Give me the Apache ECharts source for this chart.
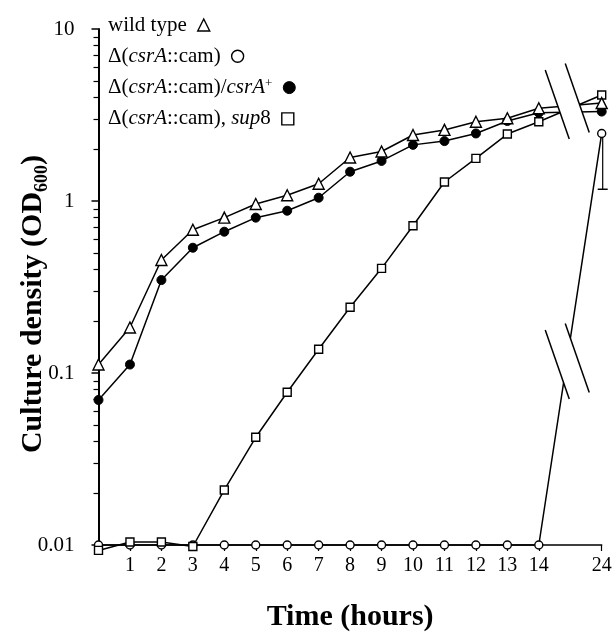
<!DOCTYPE html>
<html><head><meta charset="utf-8">
<script src="https://cdn.jsdelivr.net/npm/echarts@6/dist/echarts.min.js"></script>
<style>html,body{margin:0;padding:0;background:#fff}#c{width:616px;height:643px}</style>
</head><body><div id="c"></div>
<script>
// ---- data (OD600 vs time, hours) ----
const hours = ['0','1','2','3','4','5','6','7','8','9','10','11','12','13','14','24'];
const wildType     = [0.112,0.184,0.454,0.68,0.80,0.96,1.08,1.26,1.79,1.94,2.42,2.59,2.89,3.03,3.46,3.71];
const csrACam      = [0.01,0.01,0.01,0.01,0.01,0.01,0.01,0.01,0.01,0.01,0.01,0.01,0.01,0.01,0.01,2.47];
const csrACamComp  = [0.0697,0.112,0.347,0.535,0.663,0.80,0.878,1.045,1.48,1.71,2.12,2.23,2.47,2.92,3.26,3.31];
const csrACamSup8  = [0.0093,0.0104,0.0104,0.0098,0.0209,0.0423,0.0773,0.1375,0.241,0.406,0.718,1.29,1.77,2.45,2.89,4.13];
const csrACamErrLow = [1.17];         // lower error bound at 24 h
const errHour = ['24'];
const yMajorTicks = [0.01,0.1,1,10];
const yMinorTicks = [0.02,0.03,0.04,0.05,0.06,0.07,0.08,0.09,0.2,0.3,0.4,0.5,0.6,0.7,0.8,0.9,2,3,4,5,6,7,8,9];
const legendNames = ['wild type','Δ(csrA::cam)','Δ(csrA::cam)/csrA+','Δ(csrA::cam), sup8'];
const legendIcons = ['triangle','circle','circle','rect'];
const breakAfter = '14';   // axis is broken between 14 h and 24 h

// category axis with an empty gap slot for the break
const gapIdx = hours.indexOf(breakAfter) + 1;
const axisCats = hours.slice(0, gapIdx).concat([''], hours.slice(gapIdx));
const withGap = arr => arr.slice(0, gapIdx).concat([null], arr.slice(gapIdx));

const FONT = 'Liberation Serif';
const legendRich = {
  'wild type': 'wild type{g| }',
  'Δ(csrA::cam)': 'Δ({i|csrA}::cam){g| }',
  'Δ(csrA::cam)/csrA+': 'Δ({i|csrA}::cam)/{i|csrA}{sup|+}{g| }',
  'Δ(csrA::cam), sup8': 'Δ({i|csrA}::cam), {i|sup}8{g| }'
};
const hollow = {color:'#fff', borderColor:'#000', borderWidth:1.4};
const filled = {color:'#000', borderColor:'#000', borderWidth:1};
const legendStyles = [hollow, hollow, filled, hollow];

const chart = echarts.init(document.getElementById('c'), null, {renderer:'canvas'});
const baseLine = {type:'line', connectNulls:true, clip:false, showAllSymbol:true, z:3,
  lineStyle:{color:'#000', width:1.5}, emphasis:{disabled:true}};

const legends = legendNames.map((n, k) => ({
  orient:'vertical', left:108, top:14 + k*31.3, padding:0, align:'right', itemWidth:12, itemHeight:12,
  data:[{name:n, icon:legendIcons[k], itemStyle:legendStyles[k]}],
  selectedMode:false,
  formatter: nm => legendRich[nm],
  textStyle:{fontFamily:FONT, fontSize:21, color:'#000', lineHeight:22,
    rich:{
      i:{fontFamily:FONT, fontSize:21, fontStyle:'italic', color:'#000'},
      sup:{fontFamily:FONT, fontSize:13, color:'#000', verticalAlign:'top', lineHeight:22},
      g:{fontFamily:FONT, fontSize:21, width:6}
    }}
}));

chart.setOption({
  animation:false,
  backgroundColor:'#fff',
  grid:{left:98.5, right:14.3, top:29, bottom:98, outerBoundsMode:'none'},
  legend:legends,
  xAxis:{
    type:'category', data:axisCats, boundaryGap:false,
    name:'Time (hours)', nameLocation:'middle', nameGap:57, nameMoveOverlap:false,
    nameTextStyle:{fontFamily:FONT, fontSize:30, fontWeight:'bold', color:'#000'},
    axisLine:{lineStyle:{color:'#000', width:1.5}},
    axisTick:{length:6, lineStyle:{color:'#000', width:1.2}, interval:(i,v)=> v!=='' && v!=='0'},
    axisLabel:{fontFamily:FONT, fontSize:20, color:'#000', margin:11, interval:(i,v)=> v!=='' && v!=='0'},
    splitLine:{show:false}
  },
  yAxis:[{
    type:'log', logBase:10, min:yMajorTicks[0], max:yMajorTicks[yMajorTicks.length-1],
    name:'{t|Culture density (OD}{s|600}{t|)}', nameLocation:'middle', nameGap:47, nameRotate:90,
    nameMoveOverlap:false,
    nameTextStyle:{padding:[0,34,0,0], rich:{
      t:{fontFamily:FONT, fontSize:30, fontWeight:'bold', color:'#000', lineHeight:36},
      s:{fontFamily:FONT, fontSize:18, fontWeight:'bold', color:'#000', verticalAlign:'bottom', lineHeight:36}
    }},
    axisLine:{show:true, lineStyle:{color:'#000', width:2}},
    axisTick:{show:true, length:7, customValues:yMajorTicks, lineStyle:{color:'#000', width:1.5}},
    axisLabel:{fontFamily:FONT, fontSize:21, color:'#000', margin:24, customValues:yMajorTicks,
      formatter:v=>String(v)},
    splitLine:{show:false}
  },{
    type:'log', logBase:10, min:yMajorTicks[0], max:yMajorTicks[yMajorTicks.length-1], position:'left',
    axisLine:{show:false}, axisLabel:{show:false}, splitLine:{show:false},
    axisTick:{show:true, length:5, customValues:yMinorTicks, lineStyle:{color:'#000', width:1.2}}
  }],
  series:[
    {type:'custom', z:2, clip:false, silent:true,
      data: errHour.map((h,i)=>[h, csrACam[csrACam.length-1], csrACamErrLow[i]]),
      renderItem:(params, api)=>{
        const top = api.coord([api.value(0), api.value(1)]);
        const lo = api.coord([api.value(0), api.value(2)]);
        return {type:'group', children:[
          {type:'line', shape:{x1:top[0]+1, y1:top[1], x2:lo[0]+1, y2:lo[1]}, style:{stroke:'#000', lineWidth:1.2}},
          {type:'line', shape:{x1:lo[0]-4, y1:lo[1], x2:lo[0]+6, y2:lo[1]}, style:{stroke:'#000', lineWidth:1.5}}
        ]};
      }},
    Object.assign({}, baseLine, {name:legendNames[1], data:withGap(csrACam), symbol:'circle', symbolSize:8, itemStyle:hollow}),
    Object.assign({}, baseLine, {name:legendNames[3], data:withGap(csrACamSup8), symbol:'rect', symbolSize:8, itemStyle:hollow}),
    Object.assign({}, baseLine, {name:legendNames[2], data:withGap(csrACamComp), symbol:'circle', symbolSize:9, itemStyle:filled}),
    Object.assign({}, baseLine, {name:legendNames[0], data:withGap(wildType), symbol:'triangle', symbolSize:11, itemStyle:hollow})
  ]
});

// axis-break decorations, positioned through the chart's own scales
function breakMark(yVal){
  const c = chart.convertToPixel({xAxisIndex:0, yAxisIndex:0}, [gapIdx, yVal]);
  const cx = c[0]-3, cy = c[1];
  const hx = 12, hy = 34.5, sep = 10, tilt = 3.2;
  const c1 = [cx-sep, cy+tilt], c2 = [cx+sep, cy-tilt];
  return [
    {type:'polygon', z:100, shape:{points:[[c1[0]-hx,c1[1]-hy],[c1[0]+hx,c1[1]+hy],[c2[0]+hx,c2[1]+hy],[c2[0]-hx,c2[1]-hy]]},
      style:{fill:'#fff'}},
    {type:'line', z:101, shape:{x1:c1[0]-hx,y1:c1[1]-hy,x2:c1[0]+hx,y2:c1[1]+hy}, style:{stroke:'#000', lineWidth:1.5}},
    {type:'line', z:101, shape:{x1:c2[0]-hx,y1:c2[1]-hy,x2:c2[0]+hx,y2:c2[1]+hy}, style:{stroke:'#000', lineWidth:1.5}}
  ];
}
chart.setOption({graphic:{elements: breakMark(3.8).concat(breakMark(0.117))}});
</script></body></html>
